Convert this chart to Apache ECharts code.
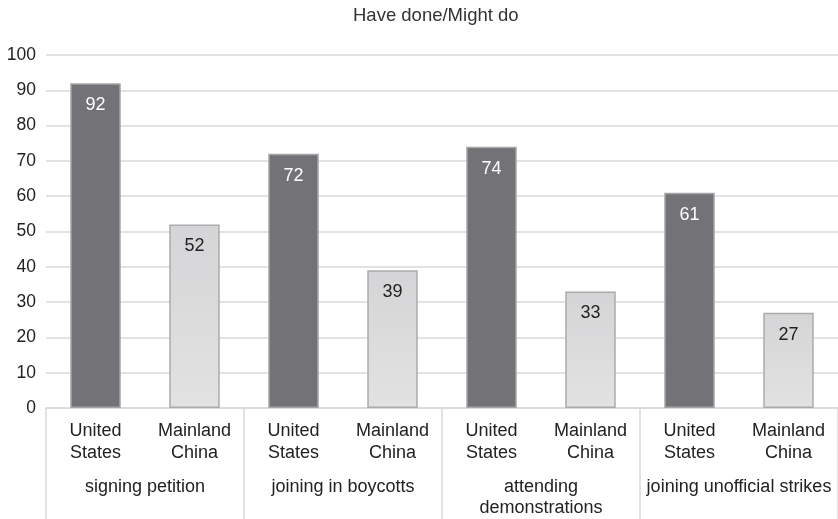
<!DOCTYPE html>
<html>
<head>
<meta charset="utf-8">
<script src="https://cdn.jsdelivr.net/npm/echarts@6/dist/echarts.min.js"></script>
<style>
  html, body { margin: 0; padding: 0; background: #fff; }
  #chart { width: 838px; height: 519px; }
</style>
</head>
<body>
<div id="chart"></div>
<script>
// Survey results: share who have done / might do each form of protest
const activities = ['signing petition', 'joining in boycotts', 'attending\ndemonstrations', 'joining unofficial strikes'];
const countries = ['United\nStates', 'Mainland\nChina'];
const unitedStates = [92, 72, 74, 61];
const mainlandChina = [52, 39, 33, 27];
const yTicks = { min: 0, max: 100, interval: 10 };

// Flatten into one category per country within each activity
const categories = [];
const usData = [];
const cnData = [];
activities.forEach((a, i) => {
  categories.push(countries[0]);
  usData.push(unitedStates[i]);
  cnData.push('-');
  categories.push(countries[1]);
  usData.push('-');
  cnData.push(mainlandChina[i]);
});

const font = 'Liberation Sans, Arial, sans-serif';
const chart = echarts.init(document.getElementById('chart'));
chart.setOption({
  animation: false,
  title: {
    text: 'Have done/Might do',
    left: 348,
    top: 1,
    textStyle: { fontFamily: font, fontSize: 18.5, fontWeight: 'normal', color: '#333' }
  },
  grid: { left: 46, right: 0, top: 55, bottom: 111, containLabel: false },
  xAxis: [
    {
      type: 'category',
      data: categories,
      position: 'bottom',
      axisLine: { show: true, lineStyle: { color: '#d9d9d9', width: 1.5 } },
      axisTick: { show: false },
      axisLabel: { fontFamily: font, fontSize: 18, color: '#222', margin: 12, lineHeight: 22 }
    },
    {
      type: 'category',
      data: activities,
      position: 'bottom',
      axisLine: { show: false },
      axisTick: { show: true, length: 111, lineStyle: { color: '#d9d9d9', width: 1.5 } },
      axisLabel: { fontFamily: font, fontSize: 18, color: '#222', margin: 69, lineHeight: 21, interval: 0 }
    }
  ],
  yAxis: {
    type: 'value',
    min: yTicks.min,
    max: yTicks.max,
    interval: yTicks.interval,
    axisLine: { show: false },
    axisTick: { show: false },
    splitLine: { lineStyle: { color: '#d9d9d9', width: 1.5 } },
    axisLabel: { fontFamily: font, fontSize: 17.5, color: '#222', margin: 10 }
  },
  series: [
    {
      name: 'United States',
      type: 'bar',
      data: usData,
      barWidth: '51%',
      barGap: '-100%',
      itemStyle: { color: '#737377', borderColor: '#a5a5a5', borderWidth: 1.5 },
      label: {
        show: true, position: 'insideTop', distance: 13,
        fontFamily: font, fontSize: 18, color: '#fff'
      }
    },
    {
      name: 'Mainland China',
      type: 'bar',
      data: cnData,
      barWidth: '51%',
      itemStyle: {
        color: new echarts.graphic.LinearGradient(0, 0, 0, 1, [
          { offset: 0, color: '#d5d5d7' },
          { offset: 1, color: '#e2e2e3' }
        ]),
        borderColor: '#ababab', borderWidth: 1.5
      },
      label: {
        show: true, position: 'insideTop', distance: 13,
        fontFamily: font, fontSize: 18, color: '#222'
      }
    }
  ]
});
</script>
</body>
</html>
